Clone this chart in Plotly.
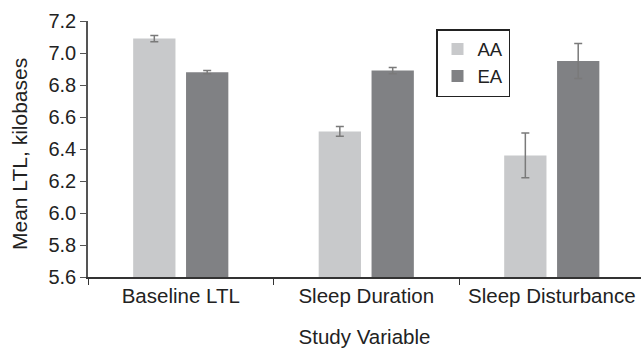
import plotly.graph_objects as go

categories = ["Baseline LTL", "Sleep Duration", "Sleep Disturbance"]
aa_values = [7.09, 6.51, 6.36]
aa_errors = [0.02, 0.03, 0.14]
ea_values = [6.88, 6.89, 6.95]
ea_errors = [0.01, 0.02, 0.11]
y_ticks = [5.6, 5.8, 6.0, 6.2, 6.4, 6.6, 6.8, 7.0, 7.2]

FONT = "Liberation Sans, Arial, sans-serif"
W, H = 641, 348
ML, MR, MT, MB = 88, 0, 21, 71
PW, PH = W - ML - MR, H - MT - MB

fig = go.Figure()
fig.add_trace(go.Bar(
    x=categories, y=aa_values, name="AA",
    marker=dict(color="#c8c9cb", line=dict(width=0)),
    error_y=dict(type="data", array=aa_errors, visible=True,
                 color="#7a7a7a", thickness=1.5, width=4),
))
fig.add_trace(go.Bar(
    x=categories, y=ea_values, name="EA",
    marker=dict(color="#808184", line=dict(width=0)),
    error_y=dict(type="data", array=ea_errors, visible=True,
                 color="#7a7a7a", thickness=1.5, width=4),
))

fig.update_layout(
    width=W, height=H,
    margin=dict(l=ML, r=MR, t=MT, b=MB, pad=0),
    paper_bgcolor="white", plot_bgcolor="white",
    barmode="group", bargap=0.43, bargroupgap=0.2,
    font=dict(family=FONT, size=20, color="#222222"),
    showlegend=True,
    legend=dict(
        x=(436 - ML) / PW, y=1 - (29 - MT) / PH,
        xanchor="left", yanchor="top",
        bordercolor="#222222", borderwidth=1.5,
        bgcolor="white", font=dict(size=18.5, color="#222222"),
        itemwidth=30, tracegroupgap=0,
    ),
    annotations=[dict(
        text="Mean LTL, kilobases", textangle=-90,
        xref="paper", yref="paper",
        x=(19 - ML) / PW, y=1 - (154 - MT) / PH,
        xanchor="center", yanchor="middle", showarrow=False,
        font=dict(size=21, color="#222222"),
    )],
)
fig.update_xaxes(
    type="category", range=[-0.5, 2.481],
    showline=True, linecolor="#333333", linewidth=1.5,
    ticks="outside", tickson="boundaries", ticklen=6, tickwidth=1.2,
    tickcolor="#333333", showgrid=False,
    tickfont=dict(size=20.5),
    title=dict(text="Study Variable", font=dict(size=20.5), standoff=23),
)
fig.update_yaxes(
    range=[5.6, 7.2], tickvals=y_ticks, tickformat=".1f",
    showline=True, linecolor="#555555", linewidth=1.5,
    ticks="outside", ticklen=6, tickwidth=1.2, tickcolor="#555555",
    showgrid=False, zeroline=False,
    tickfont=dict(size=20),
)

fig.write_html("out.html")
